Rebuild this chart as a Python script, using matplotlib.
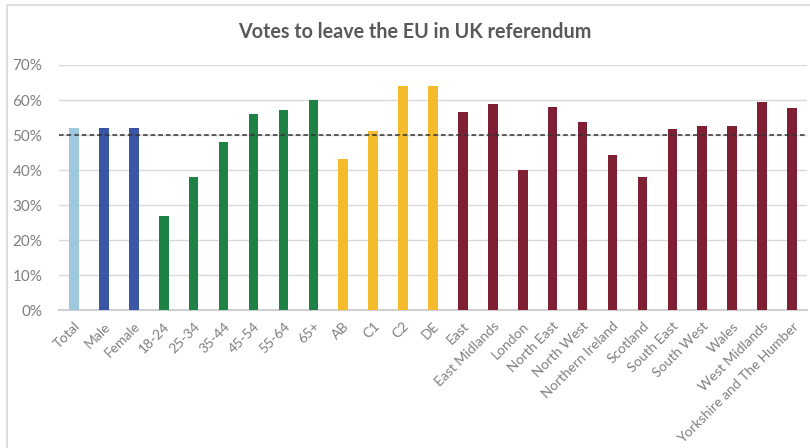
import numpy as np
import matplotlib.pyplot as plt
from matplotlib.patches import Rectangle
from matplotlib.ticker import FuncFormatter

plt.rcParams['font.family'] = ['Lato', 'DejaVu Sans']

labels = ["Total", "Male", "Female", "18-24", "25-34", "35-44", "45-54", "55-64", "65+",
          "AB", "C1", "C2", "DE", "East", "East Midlands", "London", "North East",
          "North West", "Northern Ireland", "Scotland", "South East", "South West",
          "Wales", "West Midlands", "Yorkshire and The Humber"]
leave = [52.0, 52.0, 52.0, 27.0, 38.0, 48.0, 56.0, 57.2, 60.0,
         43.2, 51.2, 64.0, 64.0, 56.6, 58.9, 40.0, 58.0,
         53.7, 44.3, 38.0, 51.7, 52.6, 52.6, 59.4, 57.7]
groups = ["total"] + ["sex"] * 2 + ["age"] * 6 + ["class"] * 4 + ["region"] * 12
group_colors = {"total": "#9DC8DF", "sex": "#3C56A6", "age": "#1E8245",
                "class": "#F4BC2C", "region": "#7F1F34"}
threshold = 50

fig = plt.figure(figsize=(8.1, 4.48), dpi=100)
fig.patches.append(Rectangle((7 / 810, -0.1), 1.0, 1.1 - 5 / 448, transform=fig.transFigure,
                             fill=False, edgecolor="#D9D9D9", linewidth=1.2))
ax = fig.add_axes([59 / 810, 1 - 310.3 / 448, (807 - 59) / 810, (310.3 - 65) / 448])

x = np.arange(len(labels))
cols = [group_colors[g] for g in groups]
ax.bar(x, leave, width=0.32, color=cols, zorder=3)
ax.axhline(threshold, color="#333333", linestyle=(0, (3, 2)), linewidth=1.1, zorder=4)

ax.set_ylim(0, 70)
ax.set_xlim(-0.5, len(labels) - 0.5)
ax.set_yticks(np.arange(0, 71, 10))
ax.yaxis.set_major_formatter(FuncFormatter(lambda v, p: "%d%%" % v))
ax.grid(axis="y", color="#D9D9D9", linewidth=1, zorder=0)
ax.set_xticks(x)
ax.set_xticklabels(labels, rotation=45, ha="right", rotation_mode="anchor")
ax.tick_params(axis="both", length=0, colors="#7F7F7F")
ax.tick_params(axis="y", pad=12, labelsize=11)
ax.tick_params(axis="x", pad=7, labelsize=10)
for s in ["top", "right", "left"]:
    ax.spines[s].set_visible(False)
ax.spines["bottom"].set_color("#D0D0D0")
ax.spines["bottom"].set_linewidth(1.5)

fig.text(415 / 810, 1 - 32 / 448, "Votes to leave the EU in UK referendum", ha="center",
         va="center", fontsize=14.2, fontweight="bold", color="#595959")

fig.savefig("out.png", dpi=100)
